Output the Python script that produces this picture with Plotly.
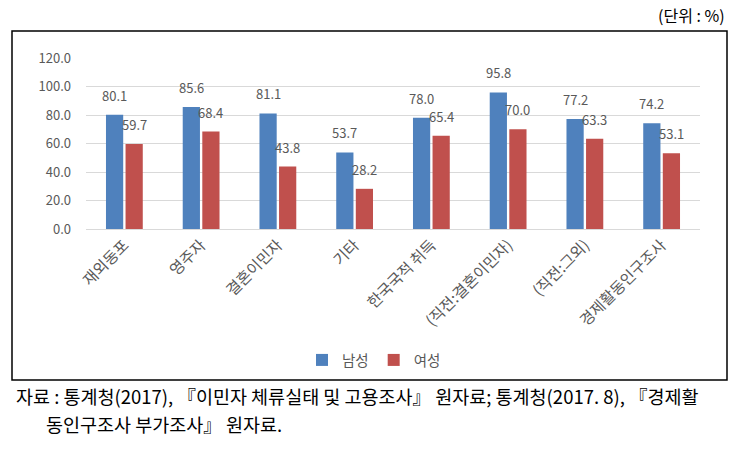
import plotly.graph_objects as go

categories = ["재외동포", "영주자", "결혼이민자", "기타", "한국국적 취득", "(직전:결혼이민자)", "(직전:그외)", "경제활동인구조사"]
male = [80.1, 85.6, 81.1, 53.7, 78.0, 95.8, 77.2, 74.2]
female = [59.7, 68.4, 43.8, 28.2, 65.4, 70.0, 63.3, 53.1]
series_names = ["남성", "여성"]
series_colors = ["#4F81BD", "#C0504D"]
y_ticks = [0, 20, 40, 60, 80, 100, 120]

FONT = "Noto Sans CJK KR"
GRAY = "#595959"
BARGAP = 0.49
GROUPGAP = 0.12

fig = go.Figure()
for name, vals, col in zip(series_names, [male, female], series_colors):
    fig.add_trace(go.Bar(x=categories, y=vals, name=name, marker_color=col,
                         marker_line=dict(width=0)))

# data labels placed above each bar via the category axis
slot = (1 - BARGAP) / 2
for k, vals in enumerate([male, female]):
    off = (k - 0.5) * slot
    for i, v in enumerate(vals):
        fig.add_annotation(x=i + off, y=v, xref="x", yref="y", text=f"{v:.1f}",
                           showarrow=False, yanchor="bottom", yshift=8,
                           font=dict(size=13, color=GRAY, family=FONT))

W, H = 745, 452
L, R, T, B = 86, 45, 58, 223
pw, ph = W - L - R, H - T - B

def px(x):
    return (x - L) / pw

def py(y):
    return (H - B - y) / ph

fig.update_layout(
    width=W, height=H,
    margin=dict(l=L, r=R, t=T, b=B, pad=0),
    paper_bgcolor="white", plot_bgcolor="white",
    barmode="group", bargap=BARGAP, bargroupgap=GROUPGAP,
    font=dict(family=FONT, color=GRAY, size=13),
    showlegend=True,
    legend=dict(orientation="h", x=px(374), xanchor="center", y=py(360), yanchor="middle",
                font=dict(size=14.5, color=GRAY, family=FONT), itemwidth=30,
                bgcolor="rgba(0,0,0,0)"),
    xaxis=dict(tickangle=-45, showgrid=False, showline=True, linecolor="#D9D9D9",
               ticks="", tickfont=dict(size=15.5, color=GRAY, family=FONT)),
    yaxis=dict(range=[0, 120], tickvals=y_ticks, tickformat=".1f", showgrid=True,
               gridcolor="#D9D9D9", zeroline=False, showline=False, ticks="",
               ticklabelstandoff=14,
               tickfont=dict(size=13, color=GRAY, family=FONT)),
)

fig.add_shape(type="rect", xref="paper", yref="paper",
              x0=px(12), x1=px(727), y0=py(380), y1=py(31),
              line=dict(color="black", width=1.5), fillcolor="rgba(0,0,0,0)", layer="below")

fig.add_annotation(text="(단위 : %)", xref="paper", yref="paper", x=px(727), y=py(15),
                   xanchor="right", yanchor="middle", showarrow=False,
                   font=dict(size=16, color="black", family=FONT))
fig.add_annotation(text="자료 : 통계청(2017), 『이민자 체류실태 및 고용조사』 원자료; 통계청(2017. 8), 『경제활",
                   xref="paper", yref="paper", x=px(14), y=py(396),
                   xanchor="left", yanchor="middle", showarrow=False,
                   font=dict(size=18.5, color="black", family=FONT))
fig.add_annotation(text="동인구조사 부가조사』 원자료.",
                   xref="paper", yref="paper", x=px(44), y=py(424),
                   xanchor="left", yanchor="middle", showarrow=False,
                   font=dict(size=18.5, color="black", family=FONT))

fig.write_html("out.html")
